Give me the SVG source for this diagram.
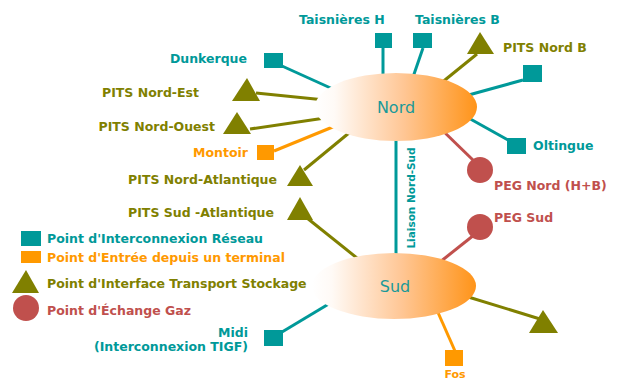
<svg xmlns="http://www.w3.org/2000/svg" width="619" height="380" viewBox="0 0 619 380">
<defs>
<linearGradient id="hub" x1="0" y1="0" x2="1" y2="0">
<stop offset="0" stop-color="#ffffff"/>
<stop offset="0.12" stop-color="#fffaf6"/>
<stop offset="0.55" stop-color="#ffc694"/>
<stop offset="1" stop-color="#ff9419"/>
</linearGradient>
</defs>
<style>
text{font-family:"DejaVu Sans","Liberation Sans",sans-serif;font-weight:bold;font-size:12.5px}
.t{fill:#009999}.o{fill:#ff9900}.g{fill:#808000}.r{fill:#c0504d}
.lt{stroke:#009999}.lo{stroke:#ff9900}.lg{stroke:#808000}.lr{stroke:#c0504d}
#connectors line{stroke-width:3;fill:none}
.hubtxt{font-weight:normal;font-size:16px;fill:#1a9999}
</style>
<rect width="619" height="380" fill="#ffffff"/>
<g id="connectors">
<line class="lt" x1="383" y1="48" x2="383" y2="80"/>
<line class="lt" x1="423" y1="48" x2="412" y2="80"/>
<line class="lg" x1="477" y1="54" x2="440" y2="84"/>
<line class="lt" x1="523" y1="80" x2="465" y2="96"/>
<line class="lt" x1="508" y1="140" x2="465" y2="116"/>
<line class="lr" x1="474" y1="161" x2="440" y2="128"/>
<line class="lt" x1="282" y1="66" x2="335" y2="90"/>
<line class="lg" x1="256" y1="93" x2="325" y2="100"/>
<line class="lg" x1="250" y1="129" x2="325" y2="118"/>
<line class="lo" x1="274" y1="151" x2="340" y2="124"/>
<line class="lg" x1="304" y1="170" x2="355" y2="128"/>
<line class="lt" x1="396" y1="138" x2="396" y2="256"/>
<line class="lg" x1="307" y1="218" x2="362" y2="262"/>
<line class="lr" x1="474" y1="235" x2="440" y2="262"/>
<line class="lg" x1="540" y1="319" x2="465" y2="296"/>
<line class="lo" x1="455" y1="351" x2="436" y2="308"/>
<line class="lt" x1="282" y1="332" x2="332" y2="302"/>
</g>
<g id="nord">
<ellipse cx="396" cy="107" rx="81" ry="34" fill="url(#hub)"/>
<text class="hubtxt" x="396" y="113" text-anchor="middle">Nord</text>
</g>
<g id="sud">
<ellipse cx="394" cy="286" rx="82" ry="33" fill="url(#hub)"/>
<text class="hubtxt" x="395" y="292" text-anchor="middle">Sud</text>
</g>
<g id="liaison">
<text class="t" transform="translate(415,198) rotate(-90)" text-anchor="middle" style="font-size:10.5px">Liaison Nord-Sud</text>
</g>
<g id="taisnieres-h">
<rect class="t" x="375" y="33" width="17" height="15"/>
<text class="t" x="299" y="24">Taisnières H</text>
</g>
<g id="taisnieres-b">
<rect class="t" x="413" y="33" width="19" height="15"/>
<text class="t" x="415" y="24">Taisnières B</text>
</g>
<g id="pits-nord-b">
<polygon class="g" points="480,32 494,54 467,54"/>
<text class="g" x="503" y="52">PITS Nord B</text>
</g>
<g id="nord-est-point">
<rect class="t" x="523" y="65" width="19" height="17"/>
</g>
<g id="oltingue">
<rect class="t" x="507" y="138" width="19" height="16"/>
<text class="t" x="533" y="150">Oltingue</text>
</g>
<g id="peg-nord">
<circle class="r" cx="480" cy="170" r="13"/>
<text class="r" x="494" y="190">PEG Nord (H+B)</text>
</g>
<g id="dunkerque">
<rect class="t" x="264" y="53" width="19" height="15"/>
<text class="t" x="247" y="63" text-anchor="end">Dunkerque</text>
</g>
<g id="pits-nord-est">
<polygon class="g" points="247,78 260,101 232,101"/>
<text class="g" x="199" y="97" text-anchor="end">PITS Nord-Est</text>
</g>
<g id="pits-nord-ouest">
<polygon class="g" points="237,112 251,134 223,134"/>
<text class="g" x="215" y="131" text-anchor="end">PITS Nord-Ouest</text>
</g>
<g id="montoir">
<rect class="o" x="257" y="145" width="17" height="15"/>
<text class="o" x="248" y="157" text-anchor="end">Montoir</text>
</g>
<g id="pits-nord-atlantique">
<polygon class="g" points="300,165 313,186 287,186"/>
<text class="g" x="277" y="184" text-anchor="end">PITS Nord-Atlantique</text>
</g>
<g id="pits-sud-atlantique">
<polygon class="g" points="300,197 313,220 287,220"/>
<text class="g" x="274" y="217" text-anchor="end">PITS Sud -Atlantique</text>
</g>
<g id="peg-sud">
<circle class="r" cx="480" cy="227" r="13"/>
<text class="r" x="494" y="222">PEG Sud</text>
</g>
<g id="pits-sud-est">
<polygon class="g" points="543,310 558,333 529,333"/>
</g>
<g id="fos">
<rect class="o" x="445" y="350" width="18" height="16"/>
<text class="o" x="455" y="378" text-anchor="middle" style="font-size:11px">Fos</text>
</g>
<g id="midi">
<rect class="t" x="264" y="330" width="19" height="16"/>
<text class="t" x="248" y="337" text-anchor="end">Midi</text>
<text class="t" x="248" y="351" text-anchor="end">(Interconnexion TIGF)</text>
</g>
<g id="legend">
<rect class="t" x="21" y="231" width="20" height="15"/>
<text class="t" x="47" y="243">Point d'Interconnexion Réseau</text>
<rect class="o" x="21" y="251" width="20" height="12"/>
<text class="o" x="47" y="262">Point d'Entrée depuis un terminal</text>
<polygon class="g" points="26,270 39,293 12,293"/>
<text class="g" x="47" y="288">Point d'Interface Transport Stockage</text>
<circle class="r" cx="26" cy="308" r="13"/>
<text class="r" x="47" y="315">Point d'Échange Gaz</text>
</g>
</svg>
